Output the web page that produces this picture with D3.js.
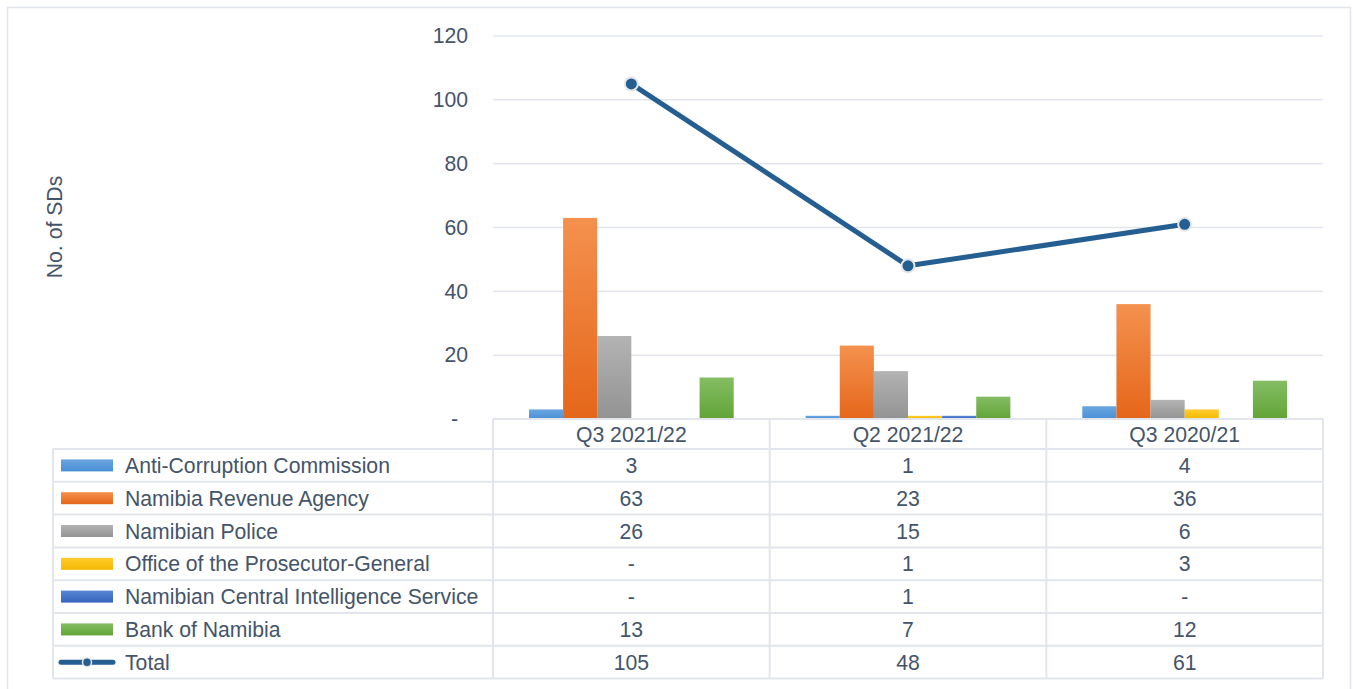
<!DOCTYPE html>
<html>
<head>
<meta charset="utf-8">
<script src="https://cdn.jsdelivr.net/npm/d3@7"></script>
<style>
    body { margin: 0; background: #fff; }
    svg { display: block; font-family: "Liberation Sans", Arial, sans-serif; }
</style>
</head>
<body>
<svg id="chart" width="1353" height="689"></svg>
<script>
const categories = ['Q3 2021/22', 'Q2 2021/22', 'Q3 2020/21'];
const seriesNames = [
    'Anti-Corruption Commission',
    'Namibia Revenue Agency',
    'Namibian Police',
    'Office of the Prosecutor-General',
    'Namibian Central Intelligence Service',
    'Bank of Namibia'
];
const anticorruption = [3, 1, 4];
const revenueAgency = [63, 23, 36];
const police = [26, 15, 6];
const prosecutor = [null, 1, 3];
const intelligence = [null, 1, null];
const bankOfNamibia = [13, 7, 12];
const total = [105, 48, 61];
const yTicks = [0, 20, 40, 60, 80, 100, 120];

const seriesValues = [anticorruption, revenueAgency, police, prosecutor, intelligence, bankOfNamibia];
// gradient top / bottom per series
const colors = [
    ['#6aa6e0', '#4a8fd6'],
    ['#f4914e', '#e5661a'],
    ['#b3b3b3', '#939393'],
    ['#ffcb2e', '#f5b800'],
    ['#5a86d4', '#3564bd'],
    ['#84bd63', '#62a437']
];
const textColor = '#44546a',
    gridColor = '#e2e6ec',
    lineColor = '#255e91',
    fontSize = '21.2px';

const svg = d3.select('#chart');
const plot = { left: 493, right: 1323, top: 36, bottom: 419 };
const rowH = 32.8,
    tableLeft = 53,
    headerH = 30;

// outer frame
svg.append('rect')
    .attr('x', 7.5).attr('y', 7.5)
    .attr('width', 1343).attr('height', 700)
    .attr('fill', 'none')
    .attr('stroke', gridColor)
    .attr('stroke-width', 1.5);

let defs = svg.append('defs');
colors.forEach(function(c, i) {
    let g = defs.append('linearGradient')
        .attr('id', 'grad' + i)
        .attr('x1', 0).attr('x2', 0).attr('y1', 0).attr('y2', 1);
    g.append('stop').attr('offset', 0).attr('stop-color', c[0]);
    g.append('stop').attr('offset', 1).attr('stop-color', c[1]);
});

const x0 = d3.scaleBand()
    .domain(categories)
    .range([plot.left, plot.right]);

const step = x0.bandwidth();
const groupPad = step * 0.13;
const x1 = d3.scaleBand()
    .domain(d3.range(seriesNames.length))
    .range([groupPad, step - groupPad]);

const y = d3.scaleLinear()
    .domain([0, 120])
    .range([plot.bottom, plot.top]);

// gridlines
svg.append('g')
    .selectAll('line')
    .data(yTicks.filter(d => d > 0))
    .enter()
    .append('line')
    .attr('x1', plot.left).attr('x2', plot.right)
    .attr('y1', d => y(d)).attr('y2', d => y(d))
    .attr('stroke', gridColor)
    .attr('stroke-width', 1.5);

// y axis labels
const yAxis = d3.axisLeft(y)
    .tickValues(yTicks)
    .tickSize(0)
    .tickPadding(25)
    .tickFormat(d => d === 0 ? '-' : d);

svg.append('g')
    .attr('transform', 'translate(' + plot.left + ',0)')
    .call(yAxis)
    .call(g => g.select('.domain').remove())
    .call(g => g.selectAll('text')
        .attr('fill', textColor)
        .style('font-size', fontSize)
        .style('font-family', '"Liberation Sans", Arial, sans-serif'))
    .call(g => g.selectAll('.tick').filter(d => d === 0).select('text').attr('x', -25 - 10));

svg.append('text')
    .attr('transform', 'translate(62,' + 227 + ') rotate(-90)')
    .attr('text-anchor', 'middle')
    .attr('fill', textColor)
    .style('font-size', fontSize)
    .text('No. of SDs');

// bars
seriesValues.forEach(function(vals, i) {
    svg.append('g')
        .selectAll('rect')
        .data(vals.map((v, k) => ({ cat: categories[k], v: v })).filter(d => d.v))
        .enter()
        .append('rect')
        .attr('x', d => x0(d.cat) + x1(i))
        .attr('width', x1.bandwidth())
        .attr('y', d => y(d.v))
        .attr('height', d => y(0) - y(d.v))
        .attr('fill', 'url(#grad' + i + ')');
});

// total line
const line = d3.line()
    .x((d, k) => x0(categories[k]) + step / 2)
    .y(d => y(d));

svg.append('path')
    .datum(total)
    .attr('d', line)
    .attr('fill', 'none')
    .attr('stroke', lineColor)
    .attr('stroke-width', 5)
    .attr('stroke-linejoin', 'round');

svg.append('g')
    .selectAll('circle')
    .data(total)
    .enter()
    .append('circle')
    .attr('cx', (d, k) => x0(categories[k]) + step / 2)
    .attr('cy', d => y(d))
    .attr('r', 6.5)
    .attr('fill', lineColor)
    .attr('stroke', '#e4e6ea')
    .attr('stroke-width', 2);

// data table
const table = svg.append('g');
const rows = seriesNames.concat(['Total']);
const rowValues = seriesValues.concat([total]);
const tableTop = plot.bottom + headerH;
const tableBottom = tableTop + rows.length * rowH;

// horizontal rules
table.append('line')
    .attr('x1', plot.left).attr('x2', plot.right)
    .attr('y1', plot.bottom).attr('y2', plot.bottom);
d3.range(rows.length + 1).forEach(function(r) {
    table.append('line')
        .attr('x1', tableLeft).attr('x2', plot.right)
        .attr('y1', tableTop + r * rowH).attr('y2', tableTop + r * rowH);
});
// vertical rules
table.append('line')
    .attr('x1', tableLeft).attr('x2', tableLeft)
    .attr('y1', tableTop).attr('y2', tableBottom);
categories.concat(['end']).forEach(function(c, k) {
    let xx = plot.left + k * step;
    table.append('line')
        .attr('x1', xx).attr('x2', xx)
        .attr('y1', plot.bottom).attr('y2', tableBottom);
});
table.selectAll('line')
    .attr('stroke', gridColor)
    .attr('stroke-width', 2);

// header
table.append('g')
    .selectAll('text')
    .data(categories)
    .enter()
    .append('text')
    .attr('x', d => x0(d) + step / 2)
    .attr('y', plot.bottom + headerH / 2)
    .attr('dy', '0.36em')
    .attr('text-anchor', 'middle')
    .attr('fill', textColor)
    .style('font-size', fontSize)
    .text(d => d);

rows.forEach(function(name, r) {
    let cy = tableTop + r * rowH + rowH / 2;
    if (name === 'Total') {
        table.append('line')
            .attr('x1', 61).attr('x2', 113)
            .attr('y1', cy).attr('y2', cy)
            .attr('stroke', lineColor)
            .attr('stroke-width', 5)
            .attr('stroke-linecap', 'round');
        table.append('circle')
            .attr('cx', 87).attr('cy', cy)
            .attr('r', 4.5)
            .attr('fill', lineColor)
            .attr('stroke', '#e4e6ea')
            .attr('stroke-width', 1.5);
    } else {
        table.append('rect')
            .attr('x', 61).attr('y', cy - 6)
            .attr('width', 52).attr('height', 12)
            .attr('fill', 'url(#grad' + r + ')');
    }
    table.append('text')
        .attr('x', 125)
        .attr('y', cy)
        .attr('dy', '0.36em')
        .attr('fill', textColor)
        .style('font-size', fontSize)
        .text(name);

    rowValues[r].forEach(function(v, k) {
        table.append('text')
            .attr('x', x0(categories[k]) + step / 2)
            .attr('y', cy)
            .attr('dy', '0.36em')
            .attr('text-anchor', 'middle')
            .attr('fill', textColor)
            .style('font-size', fontSize)
            .text(v == null ? '-' : v);
    });
});
</script>
</body>
</html>
